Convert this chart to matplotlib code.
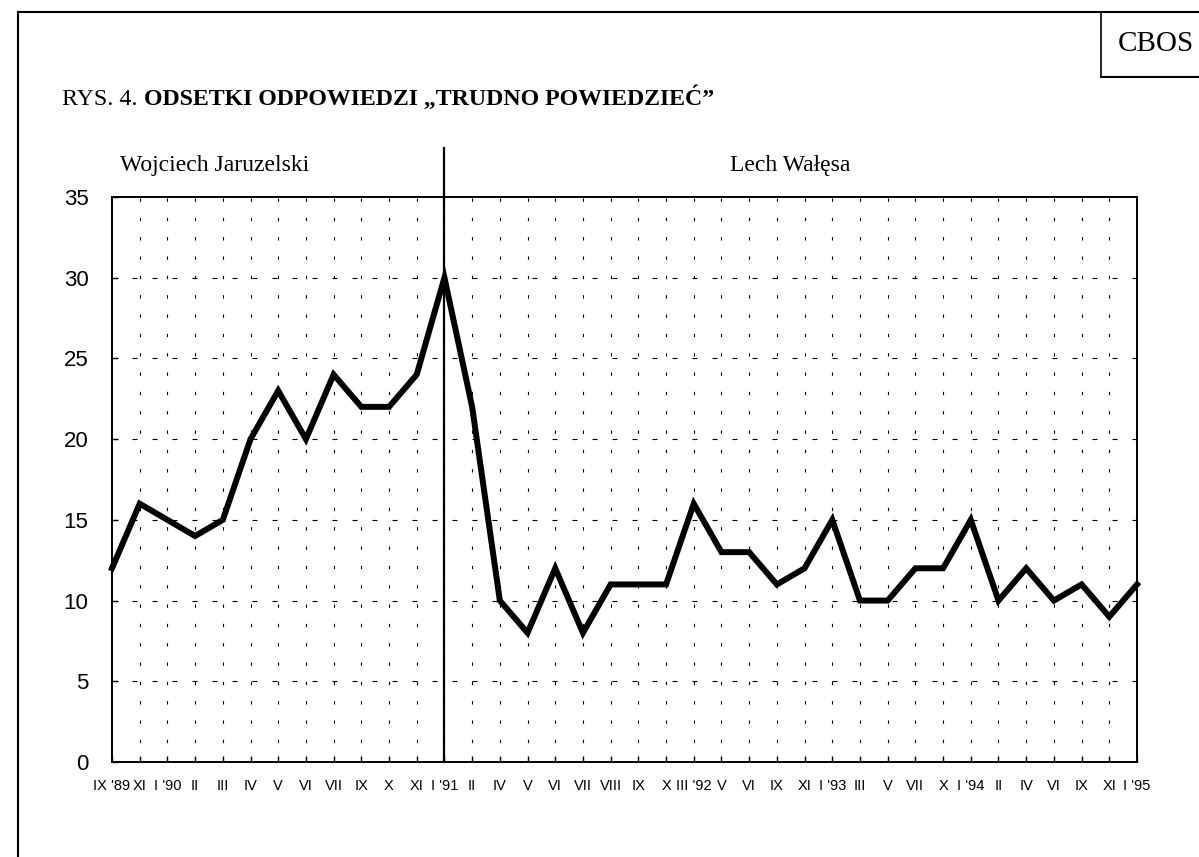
import matplotlib
matplotlib.use("Agg")
import matplotlib.pyplot as plt
from matplotlib.lines import Line2D

categories = ["IX '89", "XI", "I '90", "II", "III", "IV", "V", "VI", "VII", "IX", "X", "XI",
              "I '91", "II", "IV", "V", "VI", "VII", "VIII", "IX", "X", "III '92", "V", "VI",
              "IX", "XI", "I '93", "III", "V", "VII", "X", "I '94", "II", "IV", "VI", "IX",
              "XI", "I '95"]
values = [12, 16, 15, 14, 15, 20, 23, 20, 24, 22, 22, 24,
          30, 22, 10, 8, 12, 8, 11, 11, 11, 16, 13, 13,
          11, 12, 15, 10, 10, 12, 12, 15, 10, 12, 10, 11,
          9, 11]
y_ticks = [0, 5, 10, 15, 20, 25, 30, 35]
divider_index = 12  # I '91
period_labels = ["Wojciech Jaruzelski", "Lech Wałęsa"]

W, H = 1199, 857
fig = plt.figure(figsize=(W / 100, H / 100), dpi=100)

ax = fig.add_axes([112 / W, 1 - 762 / H, (1137 - 112) / W, (762 - 197) / H])
x = list(range(len(categories)))
ax.plot(x, values, color="black", lw=4.3, solid_joinstyle="miter", zorder=5, clip_on=False)
ax.set_xlim(0, len(categories) - 1)
ax.set_ylim(0, 35)
ax.set_yticks(y_ticks)
ax.set_yticklabels([str(v) for v in y_ticks], fontsize=16, family="Liberation Sans")
ax.set_xticks(x)
ax.set_xticklabels(categories, fontsize=10.5, family="Liberation Sans")
ax.tick_params(axis="x", direction="in", length=4, width=1, pad=12)
ax.tick_params(axis="y", direction="in", length=4, width=1, pad=17)
for s in ax.spines.values():
    s.set_linewidth(1.4)
    s.set_color("black")

# grids
for v in y_ticks[1:-1]:
    ax.axhline(v, color="black", lw=0.8, dashes=(4.5, 13.5), zorder=1)
for i in x[1:-1]:
    ax.axvline(i, color="black", lw=0.8, dashes=(3, 14.4), zorder=1)

# divider line extending above axes
ax.plot([divider_index, divider_index], [0, 35 + (197 - 148) / (565 / 35)], color="black",
        lw=1.6, clip_on=False, zorder=6)

fig.text(215 / W, 1 - 166 / H, period_labels[0], ha="center", va="center",
         fontsize=17, family="Liberation Serif")
fig.text(790 / W, 1 - 166 / H, period_labels[1], ha="center", va="center",
         fontsize=17, family="Liberation Serif")

# outer frame
fig.add_artist(Line2D([18 / W, 18 / W], [0, 1 - 12 / H], transform=fig.transFigure,
                      color="black", lw=1.5))
fig.add_artist(Line2D([18 / W, 1], [1 - 12 / H, 1 - 12 / H], transform=fig.transFigure,
                      color="black", lw=1.5))
# CBOS box
fig.add_artist(Line2D([1101 / W, 1101 / W], [1 - 12 / H, 1 - 77 / H], transform=fig.transFigure,
                      color="black", lw=1.2))
fig.add_artist(Line2D([1101 / W, 1], [1 - 77 / H, 1 - 77 / H], transform=fig.transFigure,
                      color="black", lw=1.5))
fig.text(1156 / W, 1 - 44 / H, "CBOS", ha="center", va="center", fontsize=21,
         family="Liberation Serif")

# title
t1 = fig.text(62 / W, 1 - 105 / H, "RYS. 4. ", ha="left", va="baseline", fontsize=17.2,
              family="Liberation Serif")
fig.canvas.draw()
bb = t1.get_window_extent(renderer=fig.canvas.get_renderer())
fig.text(bb.x1 / W, 1 - 105 / H, "ODSETKI ODPOWIEDZI „TRUDNO POWIEDZIEĆ”", ha="left",
         va="baseline", fontsize=17.2, family="Liberation Serif", weight="bold")

fig.savefig("out.png", dpi=100)
